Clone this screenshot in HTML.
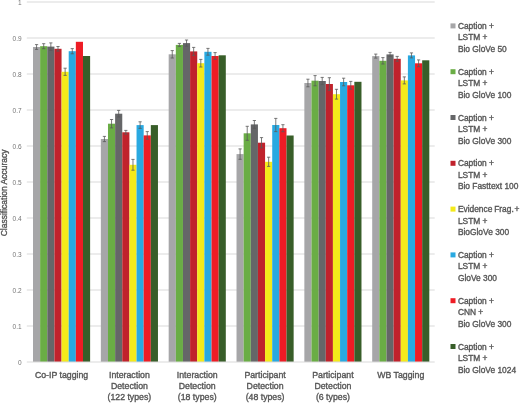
<!DOCTYPE html>
<html><head><meta charset="utf-8"><style>
html,body{margin:0;padding:0;background:#fff;width:520px;height:403px;overflow:hidden}
svg{display:block;will-change:transform;filter:blur(0.35px);font-family:"Liberation Sans",sans-serif}
text{stroke:#555;stroke-width:0.35px}
</style></head><body>
<svg width="520" height="403" viewBox="0 0 520 403">
<line x1="26.8" y1="326.0" x2="434.68" y2="326.0" stroke="#d9d9d9" stroke-width="1"/>
<line x1="26.8" y1="290.0" x2="434.68" y2="290.0" stroke="#d9d9d9" stroke-width="1"/>
<line x1="26.8" y1="254.0" x2="434.68" y2="254.0" stroke="#d9d9d9" stroke-width="1"/>
<line x1="26.8" y1="218.0" x2="434.68" y2="218.0" stroke="#d9d9d9" stroke-width="1"/>
<line x1="26.8" y1="182.0" x2="434.68" y2="182.0" stroke="#d9d9d9" stroke-width="1"/>
<line x1="26.8" y1="146.0" x2="434.68" y2="146.0" stroke="#d9d9d9" stroke-width="1"/>
<line x1="26.8" y1="110.0" x2="434.68" y2="110.0" stroke="#d9d9d9" stroke-width="1"/>
<line x1="26.8" y1="74.0" x2="434.68" y2="74.0" stroke="#d9d9d9" stroke-width="1"/>
<line x1="26.8" y1="38.0" x2="434.68" y2="38.0" stroke="#d9d9d9" stroke-width="1"/>
<line x1="26.8" y1="2.0" x2="434.68" y2="2.0" stroke="#d9d9d9" stroke-width="1"/>
<text x="21.6" y="364.50" text-anchor="end" font-size="6.5" fill="#757575" style="stroke:none">0</text>
<text x="21.6" y="328.50" text-anchor="end" font-size="6.5" fill="#757575" style="stroke:none">0.1</text>
<text x="21.6" y="292.50" text-anchor="end" font-size="6.5" fill="#757575" style="stroke:none">0.2</text>
<text x="21.6" y="256.50" text-anchor="end" font-size="6.5" fill="#757575" style="stroke:none">0.3</text>
<text x="21.6" y="220.50" text-anchor="end" font-size="6.5" fill="#757575" style="stroke:none">0.4</text>
<text x="21.6" y="184.50" text-anchor="end" font-size="6.5" fill="#757575" style="stroke:none">0.5</text>
<text x="21.6" y="148.50" text-anchor="end" font-size="6.5" fill="#757575" style="stroke:none">0.6</text>
<text x="21.6" y="112.50" text-anchor="end" font-size="6.5" fill="#757575" style="stroke:none">0.7</text>
<text x="21.6" y="76.50" text-anchor="end" font-size="6.5" fill="#757575" style="stroke:none">0.8</text>
<text x="21.6" y="40.50" text-anchor="end" font-size="6.5" fill="#757575" style="stroke:none">0.9</text>
<text x="21.6" y="4.50" text-anchor="end" font-size="6.5" fill="#757575" style="stroke:none">1</text>
<rect x="33.00" y="47.00" width="7.14" height="315.00" fill="#a6a6a8"/>
<rect x="40.14" y="46.20" width="7.14" height="315.80" fill="#6aad45"/>
<rect x="47.28" y="46.60" width="7.14" height="315.40" fill="#656668"/>
<rect x="54.42" y="48.80" width="7.14" height="313.20" fill="#c0222c"/>
<rect x="61.56" y="71.80" width="7.14" height="290.20" fill="#f4ea1a"/>
<rect x="68.70" y="51.20" width="7.14" height="310.80" fill="#29a9e1"/>
<rect x="75.84" y="41.80" width="7.14" height="320.20" fill="#ee1c25"/>
<rect x="82.98" y="56.00" width="7.14" height="306.00" fill="#385e29"/>
<rect x="100.84" y="139.00" width="7.14" height="223.00" fill="#a6a6a8"/>
<rect x="107.98" y="123.70" width="7.14" height="238.30" fill="#6aad45"/>
<rect x="115.12" y="113.70" width="7.14" height="248.30" fill="#656668"/>
<rect x="122.26" y="132.30" width="7.14" height="229.70" fill="#c0222c"/>
<rect x="129.40" y="164.80" width="7.14" height="197.20" fill="#f4ea1a"/>
<rect x="136.54" y="125.10" width="7.14" height="236.90" fill="#29a9e1"/>
<rect x="143.68" y="135.40" width="7.14" height="226.60" fill="#ee1c25"/>
<rect x="150.82" y="125.10" width="7.14" height="236.90" fill="#385e29"/>
<rect x="168.68" y="54.30" width="7.14" height="307.70" fill="#a6a6a8"/>
<rect x="175.82" y="44.90" width="7.14" height="317.10" fill="#6aad45"/>
<rect x="182.96" y="43.10" width="7.14" height="318.90" fill="#656668"/>
<rect x="190.10" y="51.40" width="7.14" height="310.60" fill="#c0222c"/>
<rect x="197.24" y="63.20" width="7.14" height="298.80" fill="#f4ea1a"/>
<rect x="204.38" y="51.80" width="7.14" height="310.20" fill="#29a9e1"/>
<rect x="211.52" y="56.00" width="7.14" height="306.00" fill="#ee1c25"/>
<rect x="218.66" y="55.30" width="7.14" height="306.70" fill="#385e29"/>
<rect x="236.52" y="154.10" width="7.14" height="207.90" fill="#a6a6a8"/>
<rect x="243.66" y="133.30" width="7.14" height="228.70" fill="#6aad45"/>
<rect x="250.80" y="124.40" width="7.14" height="237.60" fill="#656668"/>
<rect x="257.94" y="142.70" width="7.14" height="219.30" fill="#c0222c"/>
<rect x="265.08" y="161.80" width="7.14" height="200.20" fill="#f4ea1a"/>
<rect x="272.22" y="125.00" width="7.14" height="237.00" fill="#29a9e1"/>
<rect x="279.36" y="128.20" width="7.14" height="233.80" fill="#ee1c25"/>
<rect x="286.50" y="135.50" width="7.14" height="226.50" fill="#385e29"/>
<rect x="304.36" y="83.00" width="7.14" height="279.00" fill="#a6a6a8"/>
<rect x="311.50" y="80.70" width="7.14" height="281.30" fill="#6aad45"/>
<rect x="318.64" y="81.00" width="7.14" height="281.00" fill="#656668"/>
<rect x="325.78" y="84.00" width="7.14" height="278.00" fill="#c0222c"/>
<rect x="332.92" y="94.20" width="7.14" height="267.80" fill="#f4ea1a"/>
<rect x="340.06" y="82.00" width="7.14" height="280.00" fill="#29a9e1"/>
<rect x="347.20" y="85.30" width="7.14" height="276.70" fill="#ee1c25"/>
<rect x="354.34" y="81.80" width="7.14" height="280.20" fill="#385e29"/>
<rect x="372.20" y="56.10" width="7.14" height="305.90" fill="#a6a6a8"/>
<rect x="379.34" y="60.80" width="7.14" height="301.20" fill="#6aad45"/>
<rect x="386.48" y="54.40" width="7.14" height="307.60" fill="#656668"/>
<rect x="393.62" y="58.80" width="7.14" height="303.20" fill="#c0222c"/>
<rect x="400.76" y="80.40" width="7.14" height="281.60" fill="#f4ea1a"/>
<rect x="407.90" y="55.40" width="7.14" height="306.60" fill="#29a9e1"/>
<rect x="415.04" y="63.30" width="7.14" height="298.70" fill="#ee1c25"/>
<rect x="422.18" y="60.30" width="7.14" height="301.70" fill="#385e29"/>
<line x1="26.8" y1="362.0" x2="434.68" y2="362.0" stroke="#d9d9d9" stroke-width="1"/>
<path d="M36.57 44.60V49.40M34.97 44.60H38.17M34.97 49.40H38.17" stroke="#595959" stroke-width="0.8" fill="none"/>
<path d="M43.71 43.70V48.70M42.11 43.70H45.31M42.11 48.70H45.31" stroke="#595959" stroke-width="0.8" fill="none"/>
<path d="M50.85 42.90V50.30M49.25 42.90H52.45M49.25 50.30H52.45" stroke="#595959" stroke-width="0.8" fill="none"/>
<path d="M57.99 46.50V51.10M56.39 46.50H59.59M56.39 51.10H59.59" stroke="#595959" stroke-width="0.8" fill="none"/>
<path d="M65.13 68.20V75.40M63.53 68.20H66.73M63.53 75.40H66.73" stroke="#595959" stroke-width="0.8" fill="none"/>
<path d="M72.27 48.60V53.80M70.67 48.60H73.87M70.67 53.80H73.87" stroke="#595959" stroke-width="0.8" fill="none"/>
<path d="M104.41 136.40V141.60M102.81 136.40H106.01M102.81 141.60H106.01" stroke="#595959" stroke-width="0.8" fill="none"/>
<path d="M111.55 119.50V127.90M109.95 119.50H113.15M109.95 127.90H113.15" stroke="#595959" stroke-width="0.8" fill="none"/>
<path d="M118.69 110.40V117.00M117.09 110.40H120.29M117.09 117.00H120.29" stroke="#595959" stroke-width="0.8" fill="none"/>
<path d="M125.83 130.40V134.20M124.23 130.40H127.43M124.23 134.20H127.43" stroke="#595959" stroke-width="0.8" fill="none"/>
<path d="M132.97 159.40V170.20M131.37 159.40H134.57M131.37 170.20H134.57" stroke="#595959" stroke-width="0.8" fill="none"/>
<path d="M140.11 121.80V128.40M138.51 121.80H141.71M138.51 128.40H141.71" stroke="#595959" stroke-width="0.8" fill="none"/>
<path d="M147.25 131.60V139.20M145.65 131.60H148.85M145.65 139.20H148.85" stroke="#595959" stroke-width="0.8" fill="none"/>
<path d="M172.25 50.60V58.00M170.65 50.60H173.85M170.65 58.00H173.85" stroke="#595959" stroke-width="0.8" fill="none"/>
<path d="M179.39 43.40V46.40M177.79 43.40H180.99M177.79 46.40H180.99" stroke="#595959" stroke-width="0.8" fill="none"/>
<path d="M186.53 40.00V46.20M184.93 40.00H188.13M184.93 46.20H188.13" stroke="#595959" stroke-width="0.8" fill="none"/>
<path d="M193.67 47.40V55.40M192.07 47.40H195.27M192.07 55.40H195.27" stroke="#595959" stroke-width="0.8" fill="none"/>
<path d="M200.81 59.40V67.00M199.21 59.40H202.41M199.21 67.00H202.41" stroke="#595959" stroke-width="0.8" fill="none"/>
<path d="M207.95 48.40V55.20M206.35 48.40H209.55M206.35 55.20H209.55" stroke="#595959" stroke-width="0.8" fill="none"/>
<path d="M215.09 52.60V59.40M213.49 52.60H216.69M213.49 59.40H216.69" stroke="#595959" stroke-width="0.8" fill="none"/>
<path d="M240.09 148.90V159.30M238.49 148.90H241.69M238.49 159.30H241.69" stroke="#595959" stroke-width="0.8" fill="none"/>
<path d="M247.23 126.30V140.30M245.63 126.30H248.83M245.63 140.30H248.83" stroke="#595959" stroke-width="0.8" fill="none"/>
<path d="M254.37 120.50V128.30M252.77 120.50H255.97M252.77 128.30H255.97" stroke="#595959" stroke-width="0.8" fill="none"/>
<path d="M261.51 137.60V147.80M259.91 137.60H263.11M259.91 147.80H263.11" stroke="#595959" stroke-width="0.8" fill="none"/>
<path d="M268.65 157.20V166.40M267.05 157.20H270.25M267.05 166.40H270.25" stroke="#595959" stroke-width="0.8" fill="none"/>
<path d="M275.79 118.40V131.60M274.19 118.40H277.39M274.19 131.60H277.39" stroke="#595959" stroke-width="0.8" fill="none"/>
<path d="M282.93 124.70V131.70M281.33 124.70H284.53M281.33 131.70H284.53" stroke="#595959" stroke-width="0.8" fill="none"/>
<path d="M307.93 79.20V86.80M306.33 79.20H309.53M306.33 86.80H309.53" stroke="#595959" stroke-width="0.8" fill="none"/>
<path d="M315.07 75.60V85.80M313.47 75.60H316.67M313.47 85.80H316.67" stroke="#595959" stroke-width="0.8" fill="none"/>
<path d="M322.21 77.40V84.60M320.61 77.40H323.81M320.61 84.60H323.81" stroke="#595959" stroke-width="0.8" fill="none"/>
<path d="M329.35 77.70V90.30M327.75 77.70H330.95M327.75 90.30H330.95" stroke="#595959" stroke-width="0.8" fill="none"/>
<path d="M336.49 89.30V99.10M334.89 89.30H338.09M334.89 99.10H338.09" stroke="#595959" stroke-width="0.8" fill="none"/>
<path d="M343.63 78.20V85.80M342.03 78.20H345.23M342.03 85.80H345.23" stroke="#595959" stroke-width="0.8" fill="none"/>
<path d="M350.77 81.40V89.20M349.17 81.40H352.37M349.17 89.20H352.37" stroke="#595959" stroke-width="0.8" fill="none"/>
<path d="M375.77 54.10V58.10M374.17 54.10H377.37M374.17 58.10H377.37" stroke="#595959" stroke-width="0.8" fill="none"/>
<path d="M382.91 57.60V64.00M381.31 57.60H384.51M381.31 64.00H384.51" stroke="#595959" stroke-width="0.8" fill="none"/>
<path d="M390.05 52.40V56.40M388.45 52.40H391.65M388.45 56.40H391.65" stroke="#595959" stroke-width="0.8" fill="none"/>
<path d="M397.19 56.40V61.20M395.59 56.40H398.79M395.59 61.20H398.79" stroke="#595959" stroke-width="0.8" fill="none"/>
<path d="M404.33 76.90V83.90M402.73 76.90H405.93M402.73 83.90H405.93" stroke="#595959" stroke-width="0.8" fill="none"/>
<path d="M411.47 52.90V57.90M409.87 52.90H413.07M409.87 57.90H413.07" stroke="#595959" stroke-width="0.8" fill="none"/>
<path d="M418.61 59.90V66.70M417.01 59.90H420.21M417.01 66.70H420.21" stroke="#595959" stroke-width="0.8" fill="none"/>
<text x="61.56" y="377.80" text-anchor="middle" font-size="8.75" fill="#555555">Co-IP tagging</text>
<text x="129.40" y="377.80" text-anchor="middle" font-size="8.75" fill="#555555">Interaction</text>
<text x="129.40" y="388.80" text-anchor="middle" font-size="8.75" fill="#555555">Detection</text>
<text x="129.40" y="399.80" text-anchor="middle" font-size="8.75" fill="#555555">(122 types)</text>
<text x="197.24" y="377.80" text-anchor="middle" font-size="8.75" fill="#555555">Interaction</text>
<text x="197.24" y="388.80" text-anchor="middle" font-size="8.75" fill="#555555">Detection</text>
<text x="197.24" y="399.80" text-anchor="middle" font-size="8.75" fill="#555555">(18 types)</text>
<text x="265.08" y="377.80" text-anchor="middle" font-size="8.75" fill="#555555">Participant</text>
<text x="265.08" y="388.80" text-anchor="middle" font-size="8.75" fill="#555555">Detection</text>
<text x="265.08" y="399.80" text-anchor="middle" font-size="8.75" fill="#555555">(48 types)</text>
<text x="332.92" y="377.80" text-anchor="middle" font-size="8.75" fill="#555555">Participant</text>
<text x="332.92" y="388.80" text-anchor="middle" font-size="8.75" fill="#555555">Detection</text>
<text x="332.92" y="399.80" text-anchor="middle" font-size="8.75" fill="#555555">(6 types)</text>
<text x="400.76" y="377.80" text-anchor="middle" font-size="8.75" fill="#555555">WB Tagging</text>
<text transform="translate(7.1,192.9) rotate(-90)" text-anchor="middle" font-size="8.5" fill="#555555">Classification Accuracy</text>
<rect x="450.5" y="23.40" width="5" height="5" fill="#a6a6a8"/>
<text x="457.9" y="28.90" font-size="8.4" fill="#555555">Caption +</text>
<text x="457.9" y="40.40" font-size="8.4" fill="#555555">LSTM +</text>
<text x="457.9" y="51.90" font-size="8.4" fill="#555555">Bio GloVe 50</text>
<rect x="450.5" y="69.20" width="5" height="5" fill="#6aad45"/>
<text x="457.9" y="74.70" font-size="8.4" fill="#555555">Caption +</text>
<text x="457.9" y="86.20" font-size="8.4" fill="#555555">LSTM +</text>
<text x="457.9" y="97.70" font-size="8.4" fill="#555555">Bio GloVe 100</text>
<rect x="450.5" y="115.00" width="5" height="5" fill="#656668"/>
<text x="457.9" y="120.50" font-size="8.4" fill="#555555">Caption +</text>
<text x="457.9" y="132.00" font-size="8.4" fill="#555555">LSTM +</text>
<text x="457.9" y="143.50" font-size="8.4" fill="#555555">Bio GloVe 300</text>
<rect x="450.5" y="160.80" width="5" height="5" fill="#c0222c"/>
<text x="457.9" y="166.30" font-size="8.4" fill="#555555">Caption +</text>
<text x="457.9" y="177.80" font-size="8.4" fill="#555555">LSTM +</text>
<text x="457.9" y="189.30" font-size="8.4" fill="#555555">Bio Fasttext 100</text>
<rect x="450.5" y="206.60" width="5" height="5" fill="#f4ea1a"/>
<text x="457.9" y="212.10" font-size="8.4" fill="#555555">Evidence</text>
<text x="494.2" y="212.10" font-size="8.4" fill="#555555">Frag.</text>
<text x="514.6" y="212.10" font-size="8.4" fill="#555555">+</text>
<text x="457.9" y="223.60" font-size="8.4" fill="#555555">LSTM +</text>
<text x="457.9" y="235.10" font-size="8.4" fill="#555555">BioGloVe 300</text>
<rect x="450.5" y="252.40" width="5" height="5" fill="#29a9e1"/>
<text x="457.9" y="257.90" font-size="8.4" fill="#555555">Caption +</text>
<text x="457.9" y="269.40" font-size="8.4" fill="#555555">LSTM +</text>
<text x="457.9" y="280.90" font-size="8.4" fill="#555555">GloVe 300</text>
<rect x="450.5" y="298.20" width="5" height="5" fill="#ee1c25"/>
<text x="457.9" y="303.70" font-size="8.4" fill="#555555">Caption +</text>
<text x="457.9" y="315.20" font-size="8.4" fill="#555555">CNN +</text>
<text x="457.9" y="326.70" font-size="8.4" fill="#555555">Bio GloVe 300</text>
<rect x="450.5" y="344.00" width="5" height="5" fill="#385e29"/>
<text x="457.9" y="349.50" font-size="8.4" fill="#555555">Caption +</text>
<text x="457.9" y="361.00" font-size="8.4" fill="#555555">LSTM +</text>
<text x="457.9" y="372.50" font-size="8.4" fill="#555555">Bio GloVe 1024</text>
</svg>
</body></html>
